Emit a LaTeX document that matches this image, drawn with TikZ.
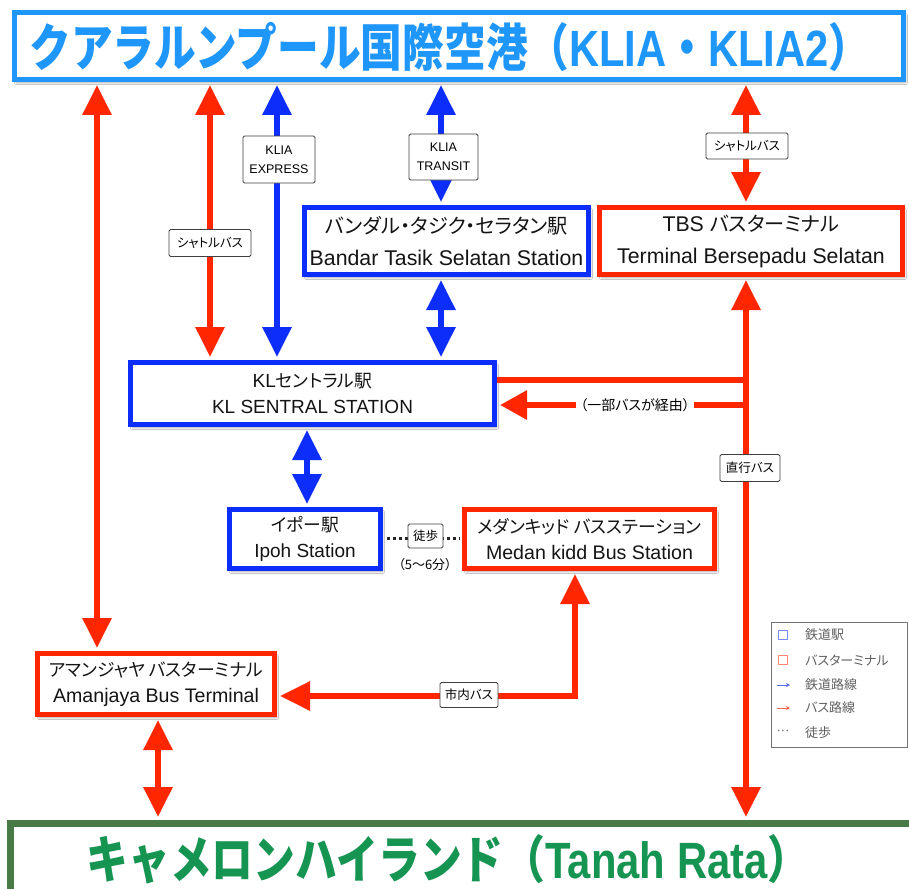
\documentclass[tikz,border=0pt]{standalone}
\usepackage{fontspec}
\usepackage{graphicx}
\setmainfont{Liberation Sans}
\newfontfamily\jp[RawFeature=+palt]{Noto Sans CJK JP}
\newfontfamily\jpw{Noto Sans CJK JP}
\usetikzlibrary{arrows.meta,shadows.blur}
\definecolor{topblue}{RGB}{30,150,250}
\definecolor{stblue}{RGB}{12,45,250}
\definecolor{busred}{RGB}{255,38,0}
\definecolor{cgreen}{RGB}{72,122,70}
\definecolor{gtext}{RGB}{22,148,82}
\newcommand\kn[1]{{\jp\fontsize{17.8}{26}\selectfont #1}}
\newcommand\knb[1]{{\jp\fontsize{20.2}{32}\selectfont #1}}
\tikzset{
  stbox/.style={draw=stblue, line width=5pt, fill=white, inner sep=0pt, align=center,
    font=\fontsize{19}{26}\selectfont, text=black!92,
    blur shadow={shadow xshift=2pt, shadow yshift=-3pt, shadow blur steps=6, shadow opacity=35}},
  busbox/.style={stbox, draw=busred},
  redline/.style={draw=busred, line width=6pt},
  blueline/.style={draw=stblue, line width=6pt},
  bothtips/.style={<->, >={Triangle[length=30pt,width=28pt]}, shorten <=3pt, shorten >=3pt},
  endtip/.style={-{Triangle[length=27pt,width=28pt]}, shorten >=3pt},
  lbl/.style={draw=black!75, line width=0.8pt, fill=white, rounded corners=1.5pt,
    inner sep=0pt, align=center, font=\jp\fontsize{12.5}{14}\selectfont},
  lbllat/.style={lbl, font=\fontsize{12.5}{19}\selectfont},
  legtext/.style={anchor=west, font=\jp\fontsize{13}{15}\selectfont, text=black!62, inner sep=0pt},
}
\begin{document}
\begin{tikzpicture}[x=1pt,y=-1pt]
\useasboundingbox (0,0) rectangle (909,888);
\fill[white] (0,0) rectangle (909,888);

% column and row helpers
\coordinate (x97) at (97,0);
\coordinate (x210) at (210,0);
\coordinate (x277) at (277,0);
\coordinate (x441) at (441,0);
\coordinate (x746) at (746,0);
\coordinate (x307) at (307,0);
\coordinate (x575) at (575,0);
\coordinate (x158) at (158,0);
\coordinate (y380) at (0,380);
\coordinate (y405) at (0,405);
\coordinate (y538) at (0,538);
\coordinate (y696) at (0,696);

% boxes
\node[draw=topblue, line width=5pt, fill=white, minimum width=889pt, minimum height=67pt, inner sep=0pt,
  blur shadow={shadow xshift=2pt, shadow yshift=-3pt, shadow blur steps=6, shadow opacity=35}] (klia) at (459,46) {};
\node[text=topblue, font=\bfseries\fontsize{51}{53}\selectfont, inner sep=0pt] (kliatext) at (450,47)
  {\resizebox{841pt}{\height}{{\jpw クアラルンプール国際空港（}KLIA{\jpw ・}KLIA2{\jpw ）}}};

\node[stbox, minimum width=284pt, minimum height=67pt, font=\fontsize{21.3}{32}\selectfont] (bandar) at (446.5,241)
  {\knb{バンダル・タジク・セラタン駅}\\Bandar Tasik Selatan Station};
\node[busbox, minimum width=303pt, minimum height=67pt, font=\fontsize{21.3}{32}\selectfont] (tbs) at (751,241)
  {TBS \knb{バスターミナル}\\Terminal Bersepadu Selatan};
\node[stbox, minimum width=364pt, minimum height=62pt] (kls) at (312.5,393.5)
  {KL\kn{セントラル駅}\\KL SENTRAL STATION};
\node[stbox, minimum width=151pt, minimum height=59pt] (ipoh) at (305,539)
  {\kn{イポー駅}\\Ipoh Station};
\node[busbox, minimum width=250pt, minimum height=59pt, font=\fontsize{19.6}{26}\selectfont] (medan) at (589.5,539)
  {\kn{メダンキッド バスステーション}\\Medan kidd Bus Station};
\node[busbox, minimum width=237pt, minimum height=61pt, font=\fontsize{19.6}{26}\selectfont] (aman) at (156,684)
  {\kn{アマンジャヤ バスターミナル}\\Amanjaya Bus Terminal};
\node[draw=cgreen, line width=7pt, fill=white, minimum width=905pt, minimum height=80pt, inner sep=0pt] (cam) at (463,863.5) {};
\node[text=gtext, font=\bfseries\fontsize{51}{53}\selectfont, inner sep=0pt] (camtext) at (448,859)
  {\resizebox{723pt}{\height}{{\jpw キャメロンハイランド（}Tanah Rata{\jpw ）}}};

% connectors
\draw[redline, bothtips] (klia.south -| x97) -- (aman.north -| x97);
\draw[redline, bothtips] (klia.south -| x210) -- (kls.north -| x210);
\draw[blueline, bothtips] (klia.south -| x277) -- (kls.north -| x277);
\draw[blueline, bothtips] (klia.south -| x441) -- (bandar.north -| x441);
\draw[blueline, bothtips] (bandar.south -| x441) -- (kls.north -| x441);
\draw[redline, bothtips] (klia.south -| x746) -- (tbs.north -| x746);
\draw[redline, bothtips] (tbs.south -| x746) -- (cam.north -| x746);
\draw[redline] (kls.east |- y380) -- (x746 |- y380);
\draw[redline, endtip] (x746 |- y405) -- (kls.east |- y405);
\draw[blueline, bothtips] (kls.south -| x307) -- (ipoh.north -| x307);
\draw[line width=3pt, black!85, dash pattern=on 3pt off 3pt, shorten <=4pt, shorten >=2pt] (ipoh.east |- y538) -- (medan.west |- y538);
\draw[redline, bothtips] (aman.east |- y696) -- (x575 |- y696) -- (medan.south -| x575);
\draw[redline, bothtips] (aman.south -| x158) -- (cam.north -| x158);

% connector labels
\node[lbl, minimum width=82pt, minimum height=27pt] (shuttle1) at (210,243) {シャトルバス};
\node[lbllat, minimum width=72pt, minimum height=47pt] (express) at (279,159.5) {KLIA\\EXPRESS};
\node[lbllat, minimum width=69pt, minimum height=46pt] (transit) at (443.5,157) {KLIA\\TRANSIT};
\node[lbl, minimum width=82pt, minimum height=26pt] (shuttle2) at (747,146) {シャトルバス};
\node[lbl, minimum width=60pt, minimum height=27pt] (direct) at (750,468) {直行バス};
\node[fill=white, inner sep=4pt, font=\jp\fontsize{14}{16}\selectfont] (via) at (635,405) {（一部バスが経由）};
\node[lbl, minimum width=35pt, minimum height=24pt] (walk) at (425.5,536) {徒歩};
\node[font=\jp\fontsize{13}{15}\selectfont, inner sep=0pt] (walktime) at (425,565) {（5〜6分）};
\node[lbl, minimum width=58pt, minimum height=25pt] (city) at (469,695) {市内バス};

% legend
\node[draw=black!55, line width=0.8pt, fill=white, minimum width=136pt, minimum height=125pt, inner sep=0pt, anchor=north west] (legend) at (771,622) {};
\node[draw=stblue!55, line width=0.8pt, minimum size=9pt, inner sep=0pt] (lgsq1) at (783,635) {};
\node[legtext] (lgt1) at (805,635) {鉄道駅};
\node[draw=busred!55, line width=0.8pt, minimum size=9pt, inner sep=0pt] (lgsq2) at (783,660) {};
\node[legtext] (lgt2) at (805,660) {バスターミナル};
\coordinate (lga1) at (777,685);
\coordinate (lga2) at (790,685);
\draw[stblue!70, line width=0.8pt, -{Stealth[length=4pt,width=4pt]}] (lga1) -- (lga2);
\node[legtext] (lgt3) at (805,685) {鉄道路線};
\coordinate (lgb1) at (777,708);
\coordinate (lgb2) at (790,708);
\draw[busred!70, line width=0.8pt, -{Stealth[length=4pt,width=4pt]}] (lgb1) -- (lgb2);
\node[legtext] (lgt4) at (805,708) {バス路線};
\node[font=\fontsize{13}{15}\selectfont, text=black!62, inner sep=0pt] (lgdots) at (783,732) {···};
\node[legtext] (lgt5) at (805,733) {徒歩};
\end{tikzpicture}
\end{document}
